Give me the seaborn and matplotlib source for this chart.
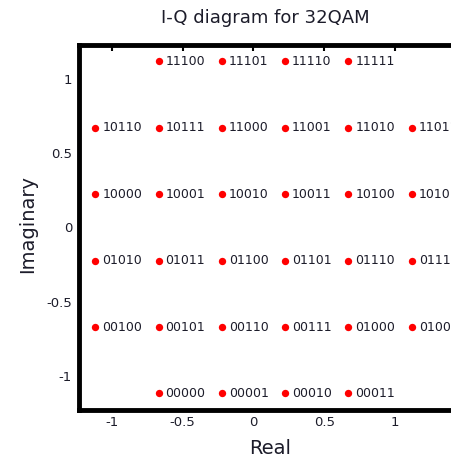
import matplotlib
matplotlib.use("Agg")
import matplotlib.pyplot as plt
import seaborn as sns
import pandas as pd

# 32QAM constellation (normalised levels)
i_vals = [-0.671, -0.224, 0.224, 0.671,
          -1.118, -0.671, -0.224, 0.224, 0.671, 1.118,
          -1.118, -0.671, -0.224, 0.224, 0.671, 1.118,
          -1.118, -0.671, -0.224, 0.224, 0.671, 1.118,
          -1.118, -0.671, -0.224, 0.224, 0.671, 1.118,
          -0.671, -0.224, 0.224, 0.671]
q_vals = [1.118] * 4 + [0.671] * 6 + [0.224] * 6 + [-0.224] * 6 + [-0.671] * 6 + [-1.118] * 4
bits = ["11100", "11101", "11110", "11111",
        "10110", "10111", "11000", "11001", "11010", "11011",
        "10000", "10001", "10010", "10011", "10100", "10101",
        "01010", "01011", "01100", "01101", "01110", "01111",
        "00100", "00101", "00110", "00111", "01000", "01001",
        "00000", "00001", "00010", "00011"]

df = pd.DataFrame({"I": i_vals, "Q": q_vals, "bits": bits})

sns.set_style("white")
plt.rcParams["font.family"] = ["DejaVu Sans"]
txt = "#1c1c2a"

fig = plt.figure(figsize=(4.51, 4.59), dpi=100)
ax = fig.add_axes([0.1752, 0.1078, 1.0, 0.7942])

sns.scatterplot(data=df, x="I", y="Q", color="red", s=28, linewidth=0, ax=ax, zorder=3)
for _, r in df.iterrows():
    ax.annotate(r["bits"], (r["I"], r["Q"]), xytext=(5, 0), textcoords="offset points",
                ha="left", va="center", fontsize=9, color=txt, annotation_clip=False)

ax.set_xlim(-1.233, 1.954)
ax.set_ylim(-1.226, 1.229)
ax.set_xticks([-1, -0.5, 0, 0.5, 1])
ax.set_xticklabels(["-1", "-0.5", "0", "0.5", "1"])
ax.set_yticks([-1, -0.5, 0, 0.5, 1])
ax.set_yticklabels(["-1", "-0.5", "0", "0.5", "1"])
ax.tick_params(direction="in", length=4, width=1.5, color="black", labelsize=9.5,
               labelcolor=txt, top=True, right=True, pad=5)
for s in ax.spines.values():
    s.set_visible(True)
    s.set_linewidth(3.5)
    s.set_color("black")

ax.set_xlabel("")
ax.set_ylabel("")
fig.text(270 / 451, 1 - 448 / 459, "Real", ha="center", va="center", fontsize=14, color=txt)
fig.text(28 / 451, 1 - 224 / 459, "Imaginary", ha="center", va="center", rotation=90,
         fontsize=14, color=txt)
fig.text(265 / 451, 1 - 18 / 459, "I-Q diagram for 32QAM", ha="center", va="center",
         fontsize=13, color=txt)

fig.savefig("out.png", dpi=100)
